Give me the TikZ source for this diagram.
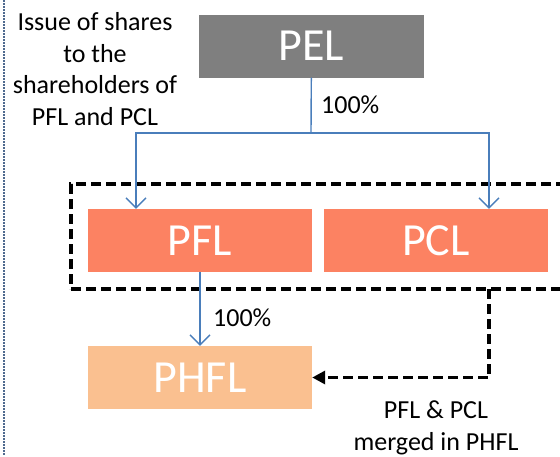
\documentclass[tikz,border=0pt]{standalone}
\usepackage{fontspec}
\setmainfont{Carlito}
\usetikzlibrary{arrows.meta}
\definecolor{pelgray}{RGB}{127,127,127}
\definecolor{subcoral}{RGB}{252,130,98}
\definecolor{newpeach}{RGB}{250,192,144}
\definecolor{linkblue}{RGB}{74,126,187}
\definecolor{rulegray}{RGB}{79,106,143}
\begin{document}
\begin{tikzpicture}[x=1pt,y=-1pt,
	co/.style={rectangle,text=white,minimum width=225pt,minimum height=63pt,inner sep=0pt,font=\fontsize{46}{50}\selectfont},
	lbl/.style={font=\fontsize{26}{31.5}\selectfont,inner sep=0pt,align=center},
	own/.style={draw=linkblue,line width=1.4pt,-{Straight Barb[length=10pt,width=20pt,line width=1.4pt]}},
	merge/.style={draw=black,line width=3.5pt,dash pattern=on 10pt off 5pt,-{Triangle[length=13pt,width=13pt]}}]
	\useasboundingbox (0,0) rectangle (560,456);
	\draw[rulegray,line width=1.5pt,dash pattern=on 1.5pt off 1.5pt] (4,0) -- (4,456);
	% companies
	\node[co,fill=pelgray] (pel) at (311.5,46){PEL};
	\node[co,fill=subcoral,minimum width=224pt] (pfl) at (200,240.5){PFL};
	\node[co,fill=subcoral,minimum width=224pt] (pcl) at (436,240.5){PCL};
	\node[co,fill=newpeach,minimum width=224pt] (phfl) at (200,377.5){PHFL};
	% group of the two merging companies
	\node[draw=black,line width=3.5pt,dash pattern=on 10pt off 5pt,minimum width=510pt,minimum height=105pt,inner sep=0pt,outer sep=0pt] (grp) at (326,236.5){};
	% labels
	\node[lbl] (issue) at (95,69){Issue of shares\\to the\\shareholders of\\PFL and PCL};
	\node[lbl,anchor=west] (pct1) at (321,105){100\%};
	\node[lbl,anchor=west] (pct2) at (213,318){100\%};
	\node[lbl] (merged) at (436,428){PFL \& PCL\\merged in PHFL};
	% holdings
	\coordinate (fork) at (311,133);
	\draw[own,-] (pel) -- (fork);
	\draw[own] (fork) -| ([xshift=-64pt]pfl.north);
	\draw[own] (fork) -| ([xshift=53pt]pcl.north);
	\draw[own] (pfl) -- (phfl);
	\draw[merge] ([xshift=163pt]grp.south) |- (phfl.east);
\end{tikzpicture}
\end{document}
